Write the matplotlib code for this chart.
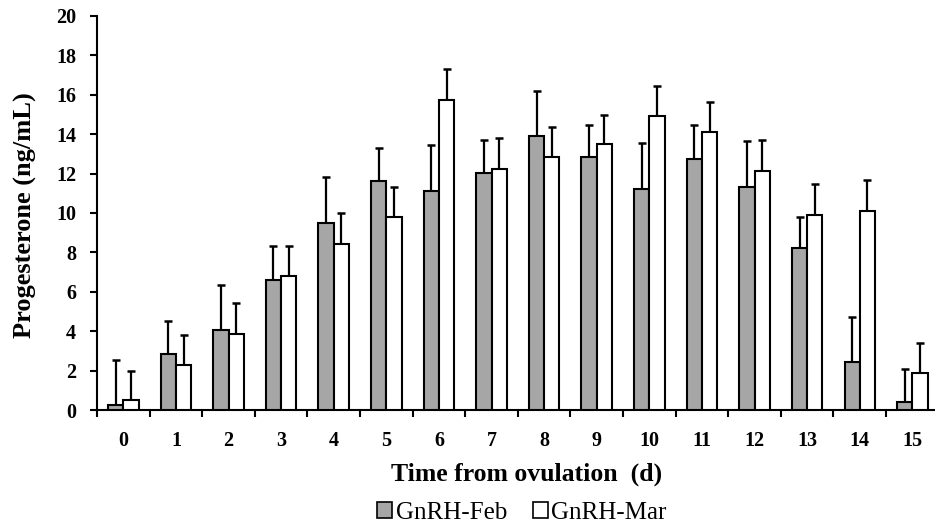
import numpy as np
import matplotlib
matplotlib.use("Agg")
import matplotlib.pyplot as plt
from matplotlib.patches import Patch

plt.rcParams['font.family'] = ['Liberation Serif', 'DejaVu Serif']

# Data
days = list(range(16))
feb_mean = [0.25, 2.84, 4.06, 6.6, 9.51, 11.64, 11.13, 12.05,
            13.89, 12.83, 11.23, 12.76, 11.34, 8.22, 2.44, 0.39]
feb_err = [2.3, 1.7, 2.3, 1.7, 2.3, 1.65, 2.3, 1.65,
           2.3, 1.65, 2.3, 1.7, 2.3, 1.6, 2.3, 1.7]
mar_mean = [0.5, 2.27, 3.86, 6.8, 8.43, 9.81, 15.74, 12.25,
            12.83, 13.49, 14.91, 14.1, 12.15, 9.9, 10.12, 1.86]
mar_err = [1.5, 1.55, 1.55, 1.55, 1.55, 1.5, 1.57, 1.55,
           1.55, 1.5, 1.52, 1.52, 1.55, 1.55, 1.57, 1.55]

fig = plt.figure(figsize=(9.35, 5.27), dpi=100)
ax = fig.add_axes([97 / 935, 117 / 527, 838 / 935, 394 / 527])

x = np.arange(len(days))
w = 0.29
gray = '#a6a6a6'

ax.bar(x - w / 2, feb_mean, w, color=gray, edgecolor='black', linewidth=1.5, zorder=3)
ax.bar(x + w / 2, mar_mean, w, color='white', edgecolor='black', linewidth=1.5, zorder=3)
ax.errorbar(x - w / 2, feb_mean, yerr=[np.zeros(len(days)), feb_err], fmt='none',
            ecolor='black', elinewidth=1.6, capsize=2.6, capthick=1.8, zorder=2)
ax.errorbar(x + w / 2, mar_mean, yerr=[np.zeros(len(days)), mar_err], fmt='none',
            ecolor='black', elinewidth=1.6, capsize=2.6, capthick=1.8, zorder=2)

ax.set_xlim(-0.5, 15.43)
ax.set_ylim(0, 20)
ax.set_yticks(range(0, 21, 2))
ax.set_xticks(x)
ax.set_xticklabels([str(d) for d in days])
ax.set_xticks(np.arange(-0.5, 15.5, 1), minor=True)
ax.tick_params(axis='x', which='major', length=0, pad=15)
ax.tick_params(axis='x', which='minor', length=5, width=1.5, direction='out')
ax.tick_params(axis='y', length=5, width=1.5, direction='out', pad=10)
for lab in ax.get_xticklabels() + ax.get_yticklabels():
    lab.set_fontsize(14.5)
    lab.set_fontweight('bold')

for s in ['top', 'right']:
    ax.spines[s].set_visible(False)
for s in ['left', 'bottom']:
    ax.spines[s].set_linewidth(1.5)

fig.text(527 / 935, 1 - 474 / 527, 'Time from ovulation  (d)', fontsize=18.5,
         fontweight='bold', ha='center', va='center')
fig.text(25 / 935, 1 - 215 / 527, 'Progesterone (ng/mL)', fontsize=19,
         fontweight='bold', ha='center', va='center', rotation=90)

handles = [Patch(facecolor=gray, edgecolor='black', linewidth=1.2, label='GnRH-Feb'),
           Patch(facecolor='white', edgecolor='black', linewidth=1.2, label='GnRH-Mar')]
fig.legend(handles=handles, loc='center', bbox_to_anchor=(522 / 935, 1 - 513 / 527), ncol=2,
           frameon=False, fontsize=18, handlelength=0.6, handleheight=0.6,
           handletextpad=0.15, columnspacing=1.0, borderpad=0.1)

fig.savefig('out.png', dpi=100)
